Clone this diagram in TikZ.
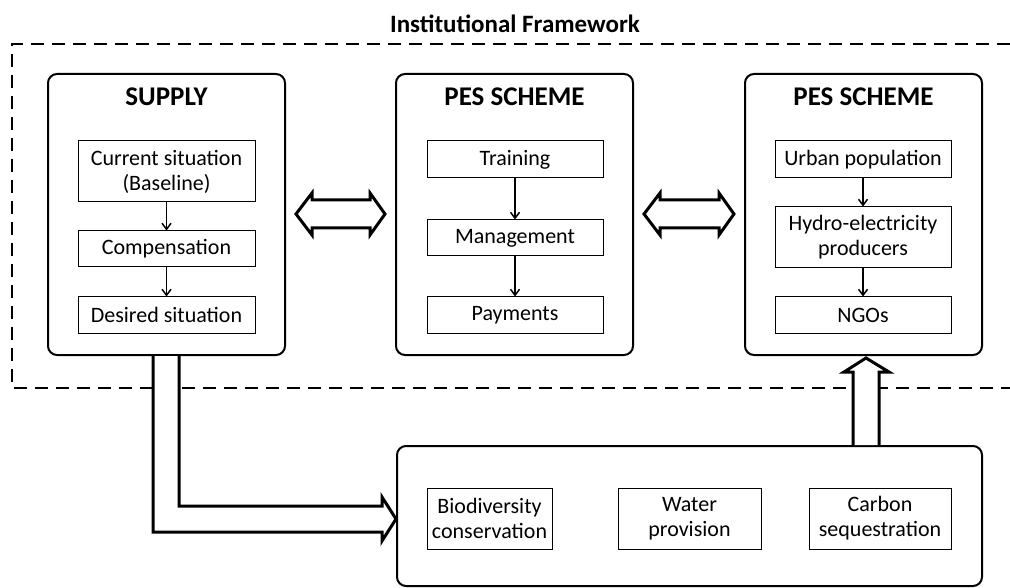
\documentclass[tikz,border=0pt]{standalone}
\usepackage{fontspec}
\setmainfont{Carlito}
\usetikzlibrary{calc,arrows.meta}
\begin{document}
\begin{tikzpicture}[x=1pt,y=-1pt,
  outer/.style={draw,line width=2pt,rounded corners=9pt,minimum width=237pt,minimum height=281pt,inner sep=0pt},
  inbox/.style={draw,line width=1pt,align=center,inner sep=0pt,font=\fontsize{22}{25}\selectfont},
  ttl/.style={anchor=base,font=\bfseries\fontsize{27}{30}\selectfont},
  thin/.style={-{Straight Barb[length=6pt,width=9pt,line width=1.5pt]},line width=1.6pt},
  fat/.style={draw,line width=3pt,line join=miter,fill=white}]
\useasboundingbox (0,0) rectangle (1010,588);
% institutional framework
\node[anchor=base,font=\bfseries\fontsize{25}{28}\selectfont] (inst) at (515,33) {Institutional Framework};
\draw[line width=2pt,dash pattern=on 13pt off 8pt] (1010,44) -- (12,44) -- (12,388) -- (1010,388);
% outer boxes
\node[outer] (sup) at (166.5,214.5) {};
\node[outer] (mid) at (514.5,214.5) {};
\node[outer] (rgt) at (863.5,214.5) {};
\node[ttl] (supT) at ($(sup.north)+(0,33)$) {SUPPLY};
\node[ttl] (midT) at ($(mid.north)+(0,33)$) {PES SCHEME};
\node[ttl] (rgtT) at ($(rgt.north)+(0,33)$) {PES SCHEME};
% supply inner
\node[inbox,minimum width=177pt,minimum height=61pt] (cur) at (166.5,171.5) {Current situation\\(Baseline)};
\node[inbox,minimum width=177pt,minimum height=36pt] (comp) at (166.5,249) {Compensation};
\node[inbox,minimum width=177pt,minimum height=36pt] (des) at (166.5,315) {Desired situation};
\draw[thin] (cur) -- (comp);
\draw[thin] (comp) -- (des);
% middle inner
\node[inbox,minimum width=176pt,minimum height=37pt] (train) at (515,159.5) {Training};
\node[inbox,minimum width=176pt,minimum height=36pt] (mgmt) at (515,238) {Management};
\node[inbox,minimum width=176pt,minimum height=36pt] (pay) at (515,315) {Payments};
\draw[thin] (train) -- (mgmt);
\draw[thin] (mgmt) -- (pay);
% right inner
\node[inbox,minimum width=176pt,minimum height=37pt] (urban) at (863,159.5) {Urban population};
\node[inbox,minimum width=176pt,minimum height=61pt] (hydro) at (863,237.5) {Hydro-electricity\\producers};
\node[inbox,minimum width=176pt,minimum height=36pt] (ngo) at (863,315) {NGOs};
\draw[thin] (urban) -- (hydro);
\draw[thin] (hydro) -- (ngo);
% bottom box
\node[draw,line width=2pt,rounded corners=9pt,minimum width=585pt,minimum height=140pt] (bot) at (689.5,516) {};
\node[inbox,minimum width=125pt,minimum height=61pt] (bio) at (489.5,518.5) {Biodiversity\\conservation};
\node[inbox,minimum width=143pt,minimum height=61pt] (wat) at (689.5,518.5) {Water\\provision};
\node[inbox,minimum width=142pt,minimum height=61pt] (carb) at (880,518.5) {Carbon\\sequestration};
% double arrows
\foreach \a/\b in {sup/mid,mid/rgt}{
  \draw[fat] let \p1=(\a.east), \p2=(\b.west) in
    (\x1+10pt,214) -- (\x1+26pt,193) -- (\x1+26pt,200) -- (\x2-25pt,200) -- (\x2-25pt,193)
    -- (\x2-10pt,214) -- (\x2-25pt,235) -- (\x2-25pt,228) -- (\x1+26pt,228) -- (\x1+26pt,235) -- cycle;
}
% supply to bottom arrow
\draw[fat] let \p1=(sup.south), \p2=(bot.west) in
  (153,\y1) -- (153,532) -- (\x2-14pt,532) -- (\x2-14pt,541) -- (\x2,519) -- (\x2-14pt,497)
  -- (\x2-14pt,506) -- (179,506) -- (179,\y1);
% bottom to right box arrow
\draw[fat] let \p1=(rgt.south), \p2=(bot.north) in
  (853,\y2) -- (853,372) -- (844,372) -- (866,\y1-2pt) -- (889,372) -- (879,372) -- (879,\y2);
\end{tikzpicture}
\end{document}
